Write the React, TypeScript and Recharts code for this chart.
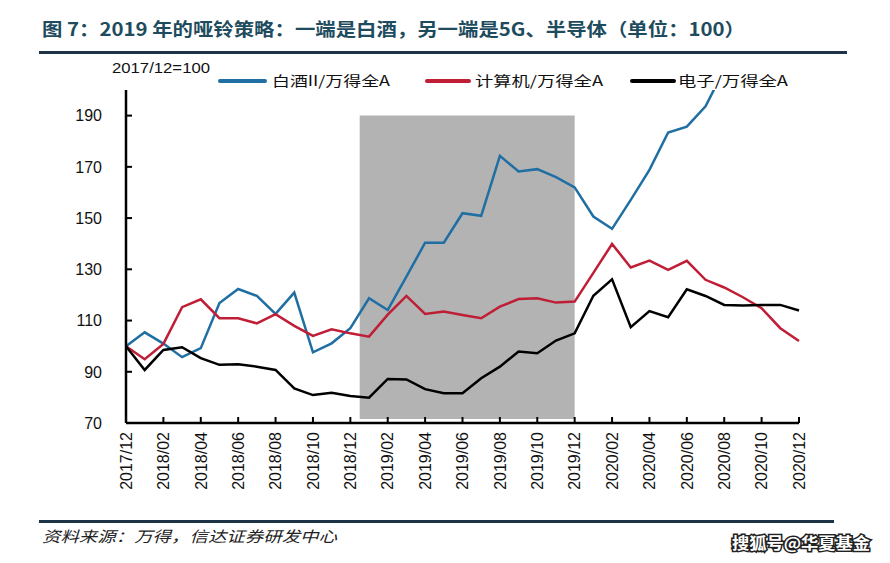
import React from "react";
import { LineChart, Line, XAxis, YAxis, ReferenceArea } from "recharts";

// month index 0 = 2017/12 ... 36 = 2020/12
const tickLabels = [
  "2017/12", "2018/02", "2018/04", "2018/06", "2018/08", "2018/10", "2018/12",
  "2019/02", "2019/04", "2019/06", "2019/08", "2019/10", "2019/12",
  "2020/02", "2020/04", "2020/06", "2020/08", "2020/10", "2020/12",
];
const yTicks = [70, 90, 110, 130, 150, 170, 190];

const baijiu: (number | null)[] = [
  100, 105.4, 101, 95.7, 99.2, 116.8, 122.3, 119.6, 112.6, 120.9, 97.6, 101.1, 107,
  118.7, 114.1, 127.1, 140.4, 140.4, 151.9, 150.9, 174.3, 168.2, 169.1, 166, 162,
  150.6, 145.8, 157.1, 168.8, 183.4, 185.7, 193.6, 208, null, null, null, null,
];
const computer: number[] = [
  100, 94.9, 100.9, 115.2, 118.3, 110.9, 110.9, 108.9, 112.5, 107.9, 104, 106.6, 105,
  103.7, 112.3, 119.6, 112.6, 113.5, 112.2, 110.9, 115.4, 118.4, 118.7, 117, 117.4,
  128.6, 139.9, 130.7, 133.4, 129.8, 133.3, 125.9, 122.9, 119.1, 114.8, 107, 102,
];
const electronics: number[] = [
  100, 90.7, 98.5, 99.6, 95.3, 92.7, 92.9, 92, 90.7, 83.5, 80.9, 81.8, 80.5,
  79.9, 87.2, 87, 83.2, 81.6, 81.6, 87.5, 92, 97.9, 97.2, 102.2, 105,
  119.7, 126.1, 107.4, 113.7, 111.3, 122.2, 119.6, 116.1, 115.9, 116.1, 116.1, 113.9,
];

const seriesNames = ["白酒II/万得全A", "计算机/万得全A", "电子/万得全A"];
const colors = ["#1f6fa3", "#bf1e36", "#000000"];
const shadeRange = [12.5, 24];
const shadeY = [71.6, 190];

const data = computer.map((_, i) => ({
  i,
  baijiu: baijiu[i],
  computer: computer[i],
  electronics: electronics[i],
}));

const FONT = "'Liberation Sans', Arial, sans-serif";
const CJK = "'Noto Sans CJK SC', 'Noto Sans', sans-serif";

const XTick = (props: any) => {
  const { x, y, payload } = props;
  const label = tickLabels[Math.round(payload.value / 2)];
  return (
    <g>
      <line x1={x} y1={y} x2={x} y2={y - 6} stroke="#000" strokeWidth={2} />
      <text
        transform={`translate(${x},${y + 9}) rotate(-90)`}
        textAnchor="end"
        dy="0.36em"
        fontSize={16}
        fontFamily={FONT}
        fill="#111"
      >
        {label}
      </text>
    </g>
  );
};

const YTick = (props: any) => {
  const { x, y, payload } = props;
  return (
    <g>
      <line x1={x} y1={y} x2={x + 6} y2={y} stroke="#000" strokeWidth={2} />
      <text x={x - 24} y={y} textAnchor="end" dy="0.36em" fontSize={16} fontFamily={FONT} fill="#111">
        {payload.value}
      </text>
    </g>
  );
};

export default function App() {
  return (
    <div style={{ position: "absolute", left: 0, top: 0, width: 890, height: 563, background: "#fff" }}>
      <LineChart
        width={890}
        height={563}
        data={data}
        margin={{ top: 90, right: 91, bottom: 80, left: 66 }}
      >
        <ReferenceArea
          x1={shadeRange[0]}
          x2={shadeRange[1]}
          y1={shadeY[0]}
          y2={shadeY[1]}
          fill="#b3b3b3"
          fillOpacity={1}
          stroke="none"
          ifOverflow="hidden"
        />
        <XAxis
          dataKey="i"
          type="number"
          domain={[0, 36]}
          ticks={tickLabels.map((_, k) => k * 2)}
          height={60}
          tickSize={0}
          tickMargin={0}
          tickLine={false}
          axisLine={{ stroke: "#000", strokeWidth: 2.5 }}
          tick={<XTick />}
          interval={0}
        />
        <YAxis
          type="number"
          domain={[70, 200]}
          ticks={yTicks}
          allowDataOverflow
          width={60}
          tickSize={0}
          tickMargin={0}
          tickLine={false}
          axisLine={{ stroke: "#000", strokeWidth: 2.5 }}
          tick={<YTick />}
          interval={0}
        />
        <Line type="linear" dataKey="baijiu" stroke={colors[0]} strokeWidth={2.5} dot={false} isAnimationActive={false} connectNulls={false} />
        <Line type="linear" dataKey="computer" stroke={colors[1]} strokeWidth={2.5} dot={false} isAnimationActive={false} />
        <Line type="linear" dataKey="electronics" stroke={colors[2]} strokeWidth={2.5} dot={false} isAnimationActive={false} />
      </LineChart>
      <svg
        width={890}
        height={563}
        style={{ position: "absolute", left: 0, top: 0, pointerEvents: "none" }}
      >
        <text x={42} y={36} fontSize={18} fontWeight={700} fontFamily={CJK} fill="#1e4c5e" textLength={703} lengthAdjust="spacingAndGlyphs">
          图 7：2019 年的哑铃策略：一端是白酒，另一端是5G、半导体（单位：100）
        </text>
        <rect x={39} y={51} width={808} height={3} fill="#1f3347" />
        <text x={112} y={73} fontSize={15} fontFamily={FONT} fill="#111" textLength={98} lengthAdjust="spacingAndGlyphs">
          2017/12=100
        </text>
        <rect x={218} y={79} width={49} height={4} rx={2} fill={colors[0]} />
        <text x={272} y={86} fontSize={14} fontFamily={CJK} fill="#111" textLength={118} lengthAdjust="spacingAndGlyphs">
          {seriesNames[0]}
        </text>
        <rect x={425} y={79} width={46} height={4} rx={2} fill={colors[1]} />
        <text x={475} y={86} fontSize={14} fontFamily={CJK} fill="#111" textLength={128} lengthAdjust="spacingAndGlyphs">
          {seriesNames[1]}
        </text>
        <rect x={630} y={79} width={46} height={4} rx={2} fill={colors[2]} />
        <text x={678} y={86} fontSize={14} fontFamily={CJK} fill="#111" textLength={110} lengthAdjust="spacingAndGlyphs">
          {seriesNames[2]}
        </text>
        <rect x={39} y={520} width={795} height={3} fill="#1f3347" />
        <text x={42} y={542} fontSize={15} fontStyle="italic" fontFamily={CJK} fill="#222" textLength={295} lengthAdjust="spacingAndGlyphs">
          资料来源：万得，信达证券研发中心
        </text>
        <text
          x={732}
          y={549}
          fontSize={16}
          fontWeight={700}
          fontFamily={CJK}
          fill="#fff"
          stroke="#222"
          strokeWidth={3}
          paintOrder="stroke"
          textLength={138}
          lengthAdjust="spacingAndGlyphs"
        >
          搜狐号@华夏基金
        </text>
      </svg>
    </div>
  );
}
